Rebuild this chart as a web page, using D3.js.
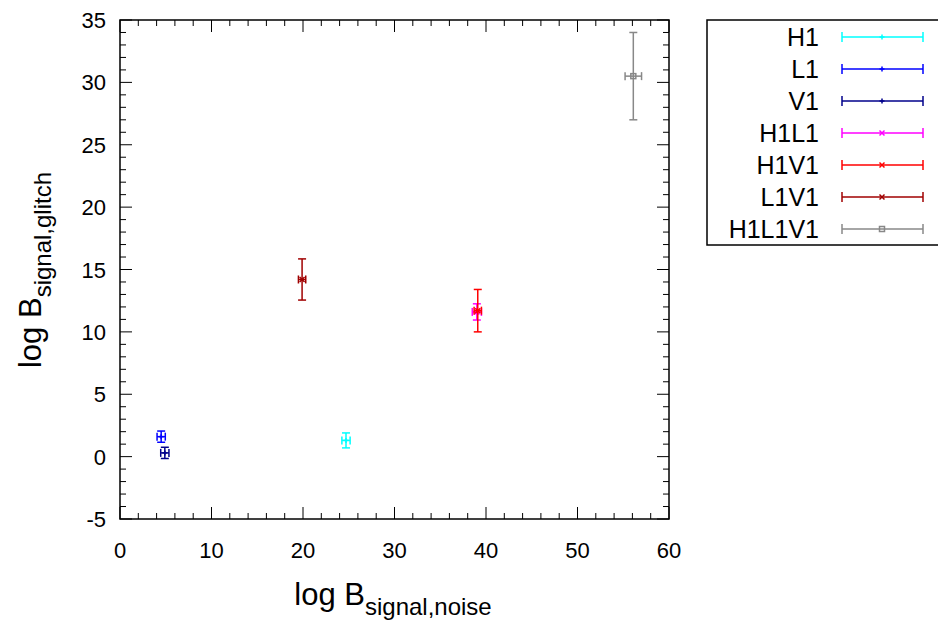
<!DOCTYPE html>
<html>
<head>
<meta charset="utf-8">
<script src="https://cdn.jsdelivr.net/npm/d3@7"></script>
<style>
  body { margin: 0; background: #fff; }
  text { font-family: "Liberation Sans", Arial, sans-serif; }
</style>
</head>
<body>
<div id="container"></div>
<script>
// data
var names   = ["H1", "L1", "V1", "H1L1", "H1V1", "L1V1", "H1L1V1"];
var colors  = ["#00ffff", "#0000ff", "#00008b", "#ff00ff", "#ff0000", "#a00000", "#888888"];
var symbols = ["plus", "plus", "plus", "cross", "cross", "cross", "square"];
var xVals   = [24.7, 4.5, 4.9, 39.0, 39.1, 19.9, 56.1];
var xErr    = [0.45, 0.45, 0.45, 0.5, 0.4, 0.4, 0.9];
var yVals   = [1.3, 1.6, 0.3, 11.6, 11.7, 14.2, 30.5];
var yErr    = [0.6, 0.45, 0.45, 0.65, 1.7, 1.65, 3.5];
var xTicks  = [0, 10, 20, 30, 40, 50, 60];
var yTicks  = [-5, 0, 5, 10, 15, 20, 25, 30, 35];

var width = 938, height = 620;
var pLeft = 120, pRight = 669, pTop = 20, pBottom = 519;

var svg = d3.select("#container").append("svg")
    .attr("width", width)
    .attr("height", height);

var x = d3.scaleLinear().domain([0, 60]).range([pLeft, pRight]);
var y = d3.scaleLinear().domain([-5, 35]).range([pBottom, pTop]);

// minor + major ticks, mirrored inward on all four sides
var xMinor = d3.range(0, 60.01, 2);
var yMinor = d3.range(-5, 35.01, 1);
var tk = svg.append("g").attr("stroke", "#000").attr("stroke-width", 1);
xMinor.forEach(function(v) {
  var len = (v % 10 === 0) ? 12 : 6;
  tk.append("line").attr("x1", x(v)).attr("x2", x(v)).attr("y1", pBottom).attr("y2", pBottom - len);
  tk.append("line").attr("x1", x(v)).attr("x2", x(v)).attr("y1", pTop).attr("y2", pTop + len);
});
yMinor.forEach(function(v) {
  var len = (v % 5 === 0) ? 12 : 6;
  tk.append("line").attr("x1", pLeft).attr("x2", pLeft + len).attr("y1", y(v)).attr("y2", y(v));
  tk.append("line").attr("x1", pRight).attr("x2", pRight - len).attr("y1", y(v)).attr("y2", y(v));
});

svg.append("rect")
    .attr("x", pLeft).attr("y", pTop)
    .attr("width", pRight - pLeft).attr("height", pBottom - pTop)
    .attr("fill", "none").attr("stroke", "#000").attr("stroke-width", 1.5);

// tick labels
svg.append("g").selectAll("text").data(xTicks).enter().append("text")
    .attr("x", function(d) { return x(d); })
    .attr("y", 558)
    .attr("text-anchor", "middle")
    .style("font-size", "22px")
    .text(function(d) { return d; });

svg.append("g").selectAll("text").data(yTicks).enter().append("text")
    .attr("x", 106)
    .attr("y", function(d) { return y(d) + 8; })
    .attr("text-anchor", "end")
    .style("font-size", "22px")
    .text(function(d) { return d; });

// axis titles
var xl = svg.append("text")
    .attr("x", 393).attr("y", 605)
    .attr("text-anchor", "middle")
    .style("font-size", "31px");
xl.append("tspan").text("log B");
xl.append("tspan").attr("dy", 10).style("font-size", "24px").text("signal,noise");

var yl = svg.append("text")
    .attr("transform", "translate(41," + 270 + ") rotate(-90)")
    .attr("text-anchor", "middle")
    .style("font-size", "31px");
yl.append("tspan").text("log B");
yl.append("tspan").attr("dy", 10).style("font-size", "24px").text("signal,glitch");

// point symbol
function drawSymbol(g, type, cx, cy, col, s) {
  if (type === "plus") {
    g.append("line").attr("x1", cx - s).attr("x2", cx + s).attr("y1", cy).attr("y2", cy).attr("stroke", col);
    g.append("line").attr("x1", cx).attr("x2", cx).attr("y1", cy - s).attr("y2", cy + s).attr("stroke", col);
  } else if (type === "cross") {
    g.append("line").attr("x1", cx - s).attr("x2", cx + s).attr("y1", cy - s).attr("y2", cy + s).attr("stroke", col);
    g.append("line").attr("x1", cx - s).attr("x2", cx + s).attr("y1", cy + s).attr("y2", cy - s).attr("stroke", col);
  } else {
    g.append("rect").attr("x", cx - s).attr("y", cy - s).attr("width", 2 * s).attr("height", 2 * s)
      .attr("fill", "none").attr("stroke", col);
  }
}

// error bars
var cap = 4;
names.forEach(function(n, i) {
  var g = svg.append("g").attr("stroke-width", 1.5).attr("fill", "none");
  var c = colors[i];
  var px = x(xVals[i]), py = y(yVals[i]);
  var x0 = x(xVals[i] - xErr[i]), x1 = x(xVals[i] + xErr[i]);
  var y0 = y(yVals[i] - yErr[i]), y1 = y(yVals[i] + yErr[i]);
  g.append("line").attr("x1", x0).attr("x2", x1).attr("y1", py).attr("y2", py).attr("stroke", c);
  g.append("line").attr("x1", px).attr("x2", px).attr("y1", y0).attr("y2", y1).attr("stroke", c);
  g.append("line").attr("x1", x0).attr("x2", x0).attr("y1", py - cap).attr("y2", py + cap).attr("stroke", c);
  g.append("line").attr("x1", x1).attr("x2", x1).attr("y1", py - cap).attr("y2", py + cap).attr("stroke", c);
  g.append("line").attr("x1", px - cap).attr("x2", px + cap).attr("y1", y0).attr("y2", y0).attr("stroke", c);
  g.append("line").attr("x1", px - cap).attr("x2", px + cap).attr("y1", y1).attr("y2", y1).attr("stroke", c);
  drawSymbol(g, symbols[i], px, py, c, 2.5);
});

// legend
var lg = svg.append("g");
lg.append("rect")
    .attr("x", 707).attr("y", 20)
    .attr("width", 240).attr("height", 225)
    .attr("fill", "#fff").attr("stroke", "#000").attr("stroke-width", 1.5);

names.forEach(function(n, i) {
  var ly = 37 + i * 32;
  var c = colors[i];
  lg.append("text")
    .attr("x", 819).attr("y", ly + 9)
    .attr("text-anchor", "end")
    .style("font-size", "25px")
    .text(n);
  var g = lg.append("g").attr("stroke-width", 1.5);
  g.append("line").attr("x1", 842).attr("x2", 923).attr("y1", ly).attr("y2", ly).attr("stroke", c);
  g.append("line").attr("x1", 842).attr("x2", 842).attr("y1", ly - 5).attr("y2", ly + 5).attr("stroke", c);
  g.append("line").attr("x1", 923).attr("x2", 923).attr("y1", ly - 5).attr("y2", ly + 5).attr("stroke", c);
  drawSymbol(g, symbols[i], 882, ly, c, 2.5);
});
</script>
</body>
</html>
